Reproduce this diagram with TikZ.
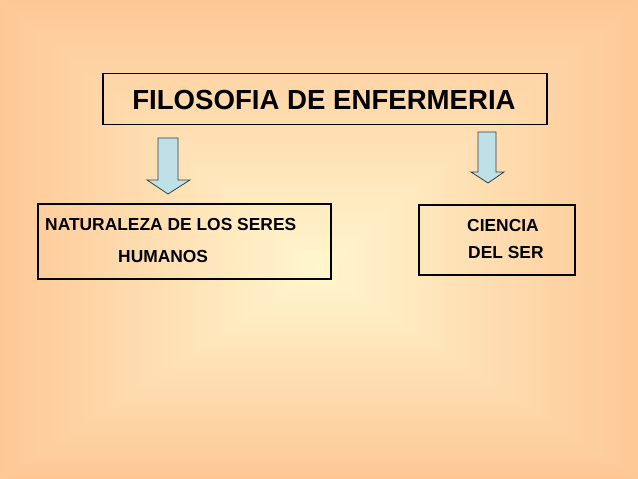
\documentclass[tikz,border=0pt]{standalone}
\usepackage{fontspec}
\setmainfont{Liberation Sans}
\definecolor{bgedge}{RGB}{254,200,150}
\definecolor{bgcenter}{RGB}{255,246,206}
\definecolor{arrowfill}{RGB}{190,225,231}
\definecolor{arrowline}{RGB}{60,60,60}
\tikzset{
  box/.style={draw=black, line width=1.8pt, fill=none},
  blockarrow/.style={draw=arrowline, line width=0.8pt, fill=arrowfill, line join=miter},
  lbl/.style={inner sep=0pt, font=\bfseries}
}
\begin{document}
\begin{tikzpicture}[x=1pt,y=-1pt]
\useasboundingbox (0,0) rectangle (638,479);
% background: concentric rectangles
\foreach \i in {0,...,59}{
  \pgfmathsetmacro{\f}{\i/60}
  \pgfmathtruncatemacro{\p}{round(100*\i/59)}
  \fill[bgcenter!\p!bgedge] ({319*\f},{270*\f}) rectangle ({638-319*\f},{479-209*\f});
}
% boxes
\node[box, minimum width=444pt, minimum height=51pt, anchor=north west] (top) at (102,72.5) {};
\node[box, minimum width=293pt, minimum height=75pt, anchor=north west] (left) at (37,203) {};
\node[box, minimum width=156pt, minimum height=70pt, anchor=north west] (right) at (418,204) {};
% texts
\node[lbl, font=\fontsize{27.6}{30}\selectfont\bfseries, anchor=base] (title) at (324,109) {FILOSOFIA DE ENFERMERIA};
\node[lbl, font=\fontsize{17.4}{20}\selectfont\bfseries, anchor=base west] (l1) at (45,230.5) {NATURALEZA DE LOS SERES};
\node[lbl, font=\fontsize{17.4}{20}\selectfont\bfseries, anchor=base west] (l2) at (118,262) {HUMANOS};
\node[lbl, font=\fontsize{17.4}{20}\selectfont\bfseries, anchor=base west] (r1) at (467,231) {CIENCIA};
\node[lbl, font=\fontsize{17.4}{20}\selectfont\bfseries, anchor=base west] (r2) at (468,258) {DEL SER};
% block arrows
\draw[blockarrow] (158,138) -- (178,138) -- (178,180) -- (190,180) -- (168,194) -- (147,180) -- (158,180) -- cycle;
\draw[blockarrow] (478,132) -- (496,132) -- (496,172) -- (504,172) -- (488,183) -- (471,172) -- (478,172) -- cycle;
\end{tikzpicture}
\end{document}
